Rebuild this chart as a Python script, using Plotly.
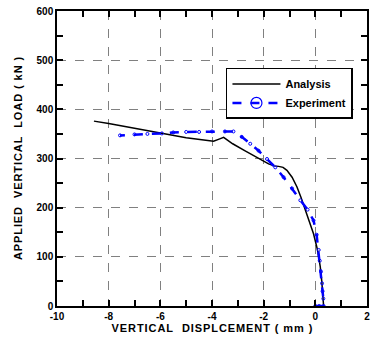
import plotly.graph_objects as go

# Analysis curve (displacement mm, load kN)
ana_x = [0.32, 0.30, 0.25, 0.19, 0.08, -0.07, -0.25, -0.39, -0.55, -0.71, -0.90, -1.10, -1.25, -1.42, -1.60, -1.81, -2.2, -2.7, -3.2, -3.55, -3.7, -3.94, -5.0, -6.0, -7.0, -8.0, -8.57]
ana_y = [0, 20, 50, 80, 115, 147, 175, 198, 220, 242, 262, 276, 282, 284, 285, 289, 300, 315, 330, 343, 340, 335, 342, 352, 362, 371, 376]

# Experiment curve
exp_x = [0.0, 0.15, 0.32, 0.31, 0.28, 0.26, 0.22, 0.17, 0.13, 0.05, -0.07, -0.3, -0.58, -0.9, -1.23, -1.55, -1.87, -2.2, -2.52, -2.85, -3.17, -3.5, -4.0, -4.5, -5.0, -5.5, -5.94, -6.5, -7.0, -7.56]
exp_y = [0, 0, 0, 15, 30, 46, 70, 92, 114, 145, 174, 196, 215, 239, 262, 282, 299, 316, 330, 344, 355, 355, 355, 354, 354, 353, 351, 350, 349, 347]

x_ticks = [-10, -8, -6, -4, -2, 0, 2]
y_ticks = [0, 100, 200, 300, 400, 500, 600]

BLUE = "#0000ff"
FONT = "Liberation Sans, Arial, sans-serif"


def spaced(text, sep):
    return sep.join(text)


fig = go.Figure()
fig.add_trace(go.Scatter(x=ana_x, y=ana_y, mode="lines", name="Analysis", showlegend=False,
                         line=dict(color="black", width=1.5)))
fig.add_trace(go.Scatter(x=exp_x, y=exp_y, mode="lines+markers", name="Experiment", showlegend=False,
                         line=dict(color=BLUE, width=2.5, dash="dash"),
                         marker=dict(symbol="circle-open", size=3, color=BLUE, line=dict(width=1))))
# legend-only entries
fig.add_trace(go.Scatter(x=[None], y=[None], mode="lines", name="Analysis",
                         line=dict(color="black", width=1.5)))
fig.add_trace(go.Scatter(x=[None], y=[None], mode="lines+markers", name="Experiment",
                         line=dict(color=BLUE, width=2.5, dash="dash"),
                         marker=dict(symbol="circle-open", size=11, color=BLUE, line=dict(width=1.2))))

title_font = dict(family=FONT, size=11, color="black", weight="bold")

axis_common = dict(
    showline=True, linecolor="black", linewidth=1.5, mirror="ticks",
    ticks="inside", ticklen=6, tickwidth=1.5, tickcolor="black",
    showgrid=True, gridcolor="#808080", griddash="dash", gridwidth=1,
    zeroline=False, automargin=False,
    tickfont=dict(family=FONT, size=10, color="black", weight="bold"),
)

fig.update_xaxes(range=[-10, 2], tickvals=x_ticks, ticktext=[str(v) for v in x_ticks],
                 minor=dict(ticks="inside", dtick=1, ticklen=6, tickwidth=1.5, tickcolor="black", showgrid=False),
                 title=dict(text=spaced("VERTICAL  DISPLCEMENT ( mm )", "\u200a"),
                            font=title_font, standoff=4),
                 **axis_common)
fig.update_yaxes(range=[0, 600], tickvals=y_ticks, ticktext=[str(v) for v in y_ticks],
                 minor=dict(ticks="inside", dtick=50, ticklen=6, tickwidth=1.5, tickcolor="black", showgrid=False),
                 title=dict(text=spaced("APPLIED  VERTICAL  LOAD ( kN )", "\u200a"),
                            font=title_font, standoff=12),
                 **axis_common)

fig.update_layout(
    width=371, height=340,
    margin=dict(l=57, r=4, t=11, b=34),
    plot_bgcolor="white", paper_bgcolor="white",
    legend=dict(x=0.545, y=0.807, xanchor="left", yanchor="top",
                bordercolor="black", borderwidth=1.5, bgcolor="white",
                font=dict(family=FONT, size=11, color="black", weight="bold"),
                tracegroupgap=0, itemwidth=48),
    showlegend=True,
)

fig.write_html("out.html", config={"displayModeBar": False},
               post_script="document.body.style.margin='0';document.body.style.overflow='hidden';")
